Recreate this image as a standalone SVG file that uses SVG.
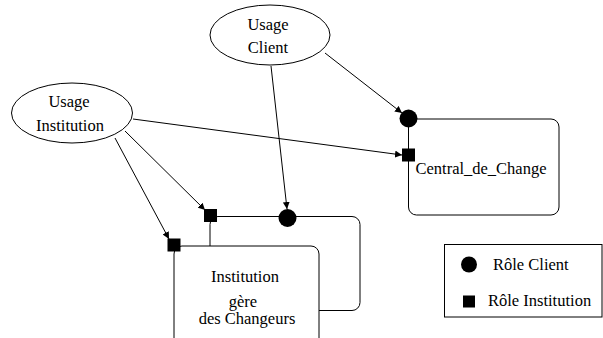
<svg xmlns="http://www.w3.org/2000/svg" width="603" height="338" viewBox="0 0 603 338">
<defs>
<marker id="arr" viewBox="0 0 10 10" refX="10" refY="5" markerWidth="7" markerHeight="7" markerUnits="userSpaceOnUse" orient="auto">
<path d="M0,0 L10,5 L0,10 z" fill="#000"/>
</marker>
</defs>
<style>
.shape{fill:#fff;stroke:#000;stroke-width:1}
.edge{fill:none;stroke:#000;stroke-width:1;marker-end:url(#arr)}
.lbl{font-size:16.5px;fill:#000;text-anchor:middle}
.leg{font-size:16.5px;fill:#000}
.mk{fill:#000;stroke:none}
</style>
<rect width="603" height="338" fill="#fff"/>
<g font-family="'Liberation Serif', 'Times New Roman', serif">
<g id="usage-client">
<ellipse class="shape" cx="270" cy="35" rx="60" ry="30"/>
<text class="lbl" x="268" y="29.5">Usage</text>
<text class="lbl" x="268" y="52.5">Client</text>
</g>
<g id="usage-institution">
<ellipse class="shape" cx="72" cy="113" rx="60.5" ry="30"/>
<text class="lbl" x="69" y="107">Usage</text>
<text class="lbl" x="70" y="130.5">Institution</text>
</g>
<g id="central-de-change">
<rect class="shape" x="408.5" y="119" width="150.5" height="96" rx="8"/>
<text class="lbl" x="481" y="173.5">Central_de_Change</text>
</g>
<g id="changeurs">
<rect class="shape" x="210" y="216.5" width="150" height="94" rx="8"/>
</g>
<g id="institution">
<rect class="shape" x="174" y="246" width="145" height="110" rx="8"/>
<text class="lbl" x="245" y="281.5">Institution</text>
<text class="lbl" x="243" y="306.5">gère</text>
<text class="lbl" x="247" y="324">des Changeurs</text>
</g>
<g id="connectors">
<line class="edge" x1="325" y1="53" x2="402" y2="113"/>
<line class="edge" x1="133" y1="119" x2="402" y2="155"/>
<line class="edge" x1="271" y1="66" x2="287" y2="209"/>
<line class="edge" x1="125" y1="131" x2="205" y2="210"/>
<line class="edge" x1="115" y1="138" x2="169" y2="239"/>
</g>
<g id="role-markers">
<circle class="mk" cx="408.5" cy="118.5" r="9"/>
<rect class="mk" x="402" y="148.5" width="13" height="13"/>
<circle class="mk" cx="287.5" cy="218" r="9"/>
<rect class="mk" x="204" y="209" width="13" height="13"/>
<rect class="mk" x="167.5" y="238.5" width="13" height="13"/>
</g>
<g id="legend">
<rect class="shape" x="444.5" y="244.5" width="157.5" height="72.5"/>
<circle class="mk" cx="469" cy="264.5" r="8"/>
<text class="leg" x="493" y="269.5">Rôle Client</text>
<rect class="mk" x="463" y="295.5" width="12" height="12"/>
<text class="leg" x="488" y="306">Rôle Institution</text>
</g>
</g>
</svg>
